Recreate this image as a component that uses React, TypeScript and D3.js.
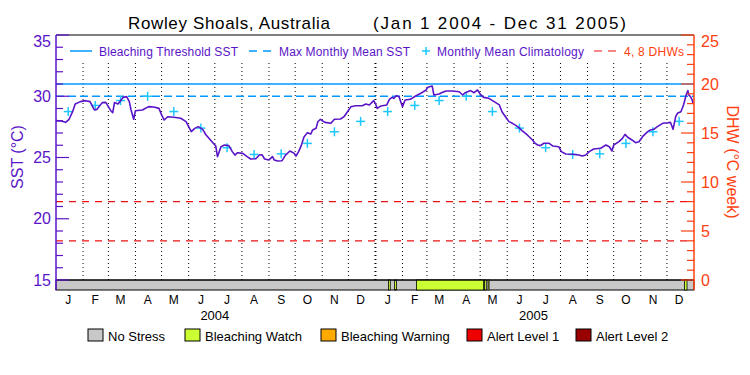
import React from 'react';
import * as d3 from 'd3';

// ---------------- DATA ----------------
const startDate = '2004-01-01';
const endDate = '2006-01-01';
// days since 2004-01-01
const sstDays = [0,6,11,15,19,22,28,34,39,42,44,47,53,57,60,63,65,67,71,74,77,81,84,86,89,91,99,106,112,118,121,124,128,135,143,149,152,155,159,163,168,172,177,181,183,185,189,193,198,202,205,208,214,219,223,229,233,236,239,244,248,250,254,259,263,268,273,275,278,281,284,288,292,294,298,300,303,308,315,319,326,330,334,338,343,351,355,359,364,366,368,372,379,382,385,387,390,393,395,397,400,406,412,418,424,426,431,433,439,443,447,454,462,466,469,475,479,483,486,490,496,502,508,511,515,519,523,529,534,540,546,549,552,555,559,565,569,576,579,584,592,599,603,607,611,616,624,630,634,637,639,645,649,652,655,660,664,668,672,678,681,685,689,695,701,704,707,710,712,716,719,722,724,725,727,729,730];
const sstValues = [28.01,27.98,27.87,28.12,28.74,29.37,29.56,29.64,29.56,29.15,28.88,28.93,29.48,29.5,29.15,28.8,28.66,29.48,29.37,29.64,29.91,29.97,29.56,28.88,28.12,28.82,28.88,29.15,29.12,29.01,28.47,28.06,28.33,28.28,28.2,27.93,27.52,27.11,27.38,27.52,27.3,26.84,26.43,26.1,25.95,25.07,25.88,26.02,25.97,25.48,25.2,25.39,25.34,25.07,24.88,24.9,25.2,25.23,24.88,24.8,25.07,24.8,24.71,24.74,25.2,25.53,25.34,25.12,25.48,25.97,26.65,27.03,26.92,27.25,27.38,27.92,28.12,27.87,27.79,28.12,28.14,28.33,28.74,29.15,29.23,29.23,29.37,29.29,29.64,29.4,29.01,29.2,29.29,29.75,29.91,29.83,30.05,29.97,29.56,29.15,29.69,29.75,30.02,30.24,30.51,30.73,30.84,30.1,30.18,30.32,30.43,30.43,30.37,30.1,30.29,30.46,30.29,30.51,30.18,29.91,29.83,29.56,29.29,28.74,28.33,27.93,27.79,27.52,27.19,26.84,26.43,26.15,26.02,25.97,26.16,26.16,25.94,25.88,25.48,25.29,25.26,25.2,25.12,25.2,25.48,25.69,25.75,26.02,25.88,25.53,26.02,26.29,26.56,26.89,26.65,26.43,26.21,26.29,26.7,27.11,27.25,27.3,27.52,27.79,27.84,27.87,27.3,28.33,28.61,28.74,29.29,30.1,30.46,30.1,29.97,29.69,29.37];

const monthLabels = ['J','F','M','A','M','J','J','A','S','O','N','D'];
const years = [2004, 2005];
const climatology = [28.75,29.25,29.65,30.0,28.75,27.4,25.8,25.25,25.3,26.15,27.1,27.95];
const bleachingThreshold = 31.0;
const maxMonthlyMean = 30.0;
const dhwLevels = [4, 8];
const sstDomain = [15, 35];
const dhwDomain = [0, 25];
const sstMajorTicks = [15,20,25,30,35];
const dhwMajorTicks = [0,5,10,15,20,25];

const stressStarts = ['2005-01-16','2005-01-23','2005-02-17','2005-05-06','2005-05-10','2005-12-21'];
const stressEnds   = ['2005-01-18','2005-01-25','2005-05-05','2005-05-08','2005-05-11','2005-12-24'];
const stressLevels = [1,1,1,1,1,1];

const stressNames = ['No Stress','Bleaching Watch','Bleaching Warning','Alert Level 1','Alert Level 2'];
const stressColors = ['#c8c8c8','#ccff33','#ffaa00','#ee0000','#990000'];

const topLegendLabels = ['Bleaching Threshold SST','Max Monthly Mean SST','Monthly Mean Climatology','4, 8 DHWs'];

// ---------------- LAYOUT ----------------
const W = 750, H = 375;
const L = 56, R = 694, T = 35, B = 280, BAR = 290;
const PURPLE = '#5a14c8';
const BLUE = '#0099ff';
const CYAN = '#1ec8ff';
const RED = '#ee1111';
const ORANGE = '#ff4010';
const FONT = '"Liberation Sans", Arial, sans-serif';

const parse = d3.timeParse('%Y-%m-%d');

export default function App() {
  const t0 = parse(startDate)!;
  const t1 = parse(endDate)!;
  const x = d3.scaleTime().domain([t0, t1]).range([L, R]);
  const y = d3.scaleLinear().domain(sstDomain).range([B, T]);
  const yd = d3.scaleLinear().domain(dhwDomain).range([B, T]);

  const pts = sstDays.map((d, i) => ({ date: d3.timeDay.offset(t0, d), v: sstValues[i] }));
  const line = d3.line<{ date: Date; v: number }>().x(p => x(p.date)).y(p => y(p.v));

  const months = d3.timeMonth.range(t0, t1);
  const sstMinor = d3.range(sstDomain[0], sstDomain[1] + 1).filter(v => !sstMajorTicks.includes(v));
  const dhwMinor = d3.range(dhwDomain[0], dhwDomain[1] + 1).filter(v => !dhwMajorTicks.includes(v));

  const climPts = years.flatMap(yr => climatology.map((v, m) => ({
    date: d3.timeDay.offset(new Date(yr, m, 1), 14), v,
  })));

  const bottomLegendX = [88, 185, 321, 467, 576];

  return (
    <svg width={W} height={H} style={{ position: 'absolute', left: 0, top: 0, background: '#fff' }} fontFamily={FONT}>
      <rect x={0} y={0} width={W} height={H} fill="#fff" />
      {/* title */}
      <text x={128} y={29} fontSize={17} fill="#000" textLength={202} lengthAdjust="spacing">Rowley Shoals, Australia</text>
      <text x={373} y={29} fontSize={17} fill="#000" textLength={253} lengthAdjust="spacing">(Jan 1 2004 - Dec 31 2005)</text>

      {/* month dotted lines */}
      {months.slice(1).map((m, i) => {
        const isYear = m.getMonth() === 0;
        return (
          <line key={'m' + i} x1={x(m)} x2={x(m)} y1={63} y2={B} stroke="#000"
            strokeWidth={isYear ? 2 : 1} strokeDasharray="1,3" />
        );
      })}

      {/* reference lines */}
      <line x1={L} x2={R} y1={y(bleachingThreshold)} y2={y(bleachingThreshold)} stroke={BLUE} strokeWidth={1.5} />
      <line x1={L} x2={R} y1={y(maxMonthlyMean)} y2={y(maxMonthlyMean)} stroke={BLUE} strokeWidth={1.5} strokeDasharray="8,4" />
      {dhwLevels.map(d => (
        <line key={'d' + d} x1={L} x2={R} y1={yd(d)} y2={yd(d)} stroke={RED} strokeWidth={1.2} strokeDasharray="7,6" />
      ))}

      {/* climatology crosses */}
      {climPts.map((p, i) => (
        <g key={'c' + i} stroke={CYAN} strokeWidth={1.5}>
          <line x1={x(p.date) - 4.5} x2={x(p.date) + 4.5} y1={y(p.v)} y2={y(p.v)} />
          <line x1={x(p.date)} x2={x(p.date)} y1={y(p.v) - 4.5} y2={y(p.v) + 4.5} />
        </g>
      ))}

      {/* SST line */}
      <path d={line(pts) || ''} fill="none" stroke={PURPLE} strokeWidth={1.6} strokeLinejoin="round" />

      {/* top legend */}
      <g fontSize={12}>
        <line x1={70} x2={92} y1={51} y2={51} stroke={BLUE} strokeWidth={1.5} />
        <text x={99} y={56} fill={PURPLE} textLength={139} lengthAdjust="spacing">{topLegendLabels[0]}</text>
        <line x1={249} x2={273} y1={51} y2={51} stroke={BLUE} strokeWidth={1.5} strokeDasharray="8,6" />
        <text x={279} y={56} fill={PURPLE} textLength={131} lengthAdjust="spacing">{topLegendLabels[1]}</text>
        <line x1={422} x2={430} y1={51} y2={51} stroke={CYAN} strokeWidth={1.5} />
        <line x1={426} x2={426} y1={47} y2={55} stroke={CYAN} strokeWidth={1.5} />
        <text x={437} y={56} fill={PURPLE} textLength={147} lengthAdjust="spacing">{topLegendLabels[2]}</text>
        <line x1={594} x2={618} y1={51} y2={51} stroke={RED} strokeWidth={1.2} strokeDasharray="8,6" />
        <text x={624} y={56} fill={ORANGE} textLength={60} lengthAdjust="spacing">{topLegendLabels[3]}</text>
      </g>

      {/* stress bar */}
      <rect x={L} y={B} width={R - L} height={BAR - B} fill={stressColors[0]} stroke="#000" strokeWidth={1} />
      {stressStarts.map((s, i) => {
        const x0 = x(parse(s)!), x1 = x(parse(stressEnds[i])!);
        return <rect key={'s' + i} x={x0} y={B} width={Math.max(1, x1 - x0)} height={BAR - B}
          fill={stressColors[stressLevels[i]]} stroke="#000" strokeWidth={0.8} />;
      })}

      {/* frame */}
      <line x1={L} x2={R} y1={T} y2={T} stroke="#000" strokeWidth={1.2} />
      <line x1={L} x2={R} y1={B} y2={B} stroke="#000" strokeWidth={1.2} />
      <line x1={L} x2={L} y1={T} y2={BAR} stroke={PURPLE} strokeWidth={1.5} />
      <line x1={R} x2={R} y1={T} y2={BAR} stroke={ORANGE} strokeWidth={1.5} />

      {/* left axis ticks */}
      {sstMajorTicks.map(v => (
        <g key={'lt' + v}>
          <line x1={L} x2={L + 13} y1={y(v)} y2={y(v)} stroke={PURPLE} strokeWidth={1.2} />
          <text x={51} y={Math.max(y(v), T + 6)} dy="0.35em" textAnchor="end" fontSize={16} fill={PURPLE}>{v}</text>
        </g>
      ))}
      {sstMinor.map(v => (
        <line key={'lm' + v} x1={L} x2={L + 7} y1={y(v)} y2={y(v)} stroke={PURPLE} strokeWidth={1.2} />
      ))}
      {/* right axis ticks */}
      {dhwMajorTicks.map(v => (
        <g key={'rt' + v}>
          <line x1={R - 13} x2={R} y1={yd(v)} y2={yd(v)} stroke={ORANGE} strokeWidth={1.2} />
          <text x={701} y={Math.max(yd(v), T + 6)} dy="0.35em" textAnchor="start" fontSize={16} fill={ORANGE}>{v}</text>
        </g>
      ))}
      {dhwMinor.map(v => (
        <line key={'rm' + v} x1={R - 7} x2={R} y1={yd(v)} y2={yd(v)} stroke={ORANGE} strokeWidth={1.2} />
      ))}

      {/* axis titles */}
      <text transform={`translate(17,157) rotate(-90)`} textAnchor="middle" dy="0.35em" fontSize={16} fill={PURPLE}>SST (°C)</text>
      <text transform={`translate(733,162) rotate(90)`} textAnchor="middle" dy="0.35em" fontSize={16} fill={ORANGE}>DHW (°C week)</text>

      {/* month labels */}
      {months.map((m, i) => (
        <text key={'ml' + i} x={x(d3.timeDay.offset(m, 14))} y={304} textAnchor="middle" fontSize={12} fill="#000">
          {monthLabels[m.getMonth()]}
        </text>
      ))}
      {years.map(yr => (
        <text key={'y' + yr} x={x(new Date(yr, 6, 1))} y={320} textAnchor="middle" fontSize={13} fill="#000">{yr}</text>
      ))}

      {/* bottom legend */}
      {stressNames.map((n, i) => (
        <g key={'bl' + i}>
          <rect x={bottomLegendX[i]} y={329} width={15} height={12} fill={stressColors[i]} stroke="#000" strokeWidth={1} />
          <text x={bottomLegendX[i] + 20} y={341} fontSize={13} fill="#000">{n}</text>
        </g>
      ))}
    </svg>
  );
}
